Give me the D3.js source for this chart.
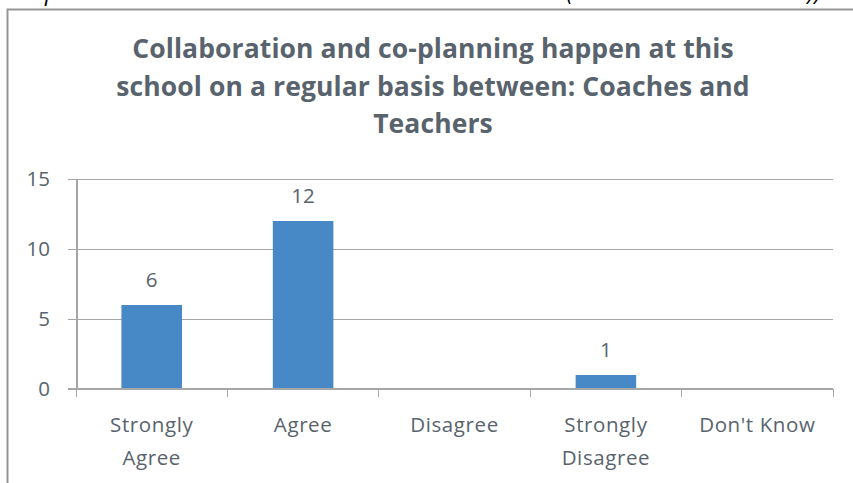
<!DOCTYPE html>
<meta charset="utf-8">
<style>
body {
  margin: 0;
  background-color: #fff;
}
text {
  font-family: "Open Sans", sans-serif;
  fill: #59636d;
}
.axis path,
.axis line {
  fill: none;
  stroke: #a6a6a6;
  stroke-width: 2px;
  shape-rendering: crispEdges;
}
.grid line {
  stroke: #a6a6a6;
  stroke-width: 1px;
  shape-rendering: crispEdges;
}
.bar {
  fill: #4788c7;
}
</style>
<body>
<svg width="853" height="483"></svg>

<script src="https://d3js.org/d3.v7.min.js"></script>
<script>

var categories = [["Strongly", "Agree"], ["Agree"], ["Disagree"], ["Strongly", "Disagree"], ["Don't Know"]];
var counts = [6, 12, 0, 1, 0];
var yTicks = [0, 5, 10, 15];
var titleLines = ["Collaboration and co-planning happen at this",
                  "school on a regular basis between: Coaches and",
                  "Teachers"];
var caption = "Graph 4: Teacher and Coach Collaboration at School (Teachers and Coaches))";

var data = categories.map(function(c, i) { return {label: c, key: c.join(" "), value: counts[i]}; });

var margin = {top: 179, right: 20, bottom: 94, left: 76},
    width = 833 - margin.left,
    height = 389 - margin.top;

var svg = d3.select("svg");

// caption of the page, cut off above the chart frame
svg.append("text")
  .attr("x", 6)
  .attr("y", 0)
  .attr("textLength", 815)
  .attr("lengthAdjust", "spacing")
  .style("font-style", "italic")
  .style("font-size", "23px")
  .style("fill", "#000")
  .text(caption);

// chart frame
svg.append("rect")
  .attr("x", 7.5)
  .attr("y", 9.5)
  .attr("width", 860)
  .attr("height", 500)
  .attr("fill", "none")
  .attr("stroke", "#959595")
  .attr("stroke-width", 2);

svg.append("g").selectAll("text")
  .data(titleLines)
  .enter().append("text")
  .attr("x", 433)
  .attr("y", function(d, i) { return 58 + i * 37.5; })
  .attr("text-anchor", "middle")
  .style("font-size", "26.5px")
  .style("font-weight", "bold")
  .style("letter-spacing", "0.1px")
  .text(function(d) { return d; });

var x = d3.scaleBand()
  .domain(data.map(function(d) { return d.key; }))
  .range([0, width])
  .paddingInner(0.6)
  .paddingOuter(0.3);

var y = d3.scaleLinear().domain([0, 15]).range([height, 0]);

var g = svg.append("g")
  .attr("transform", "translate(" + margin.left + "," + margin.top + ")");

g.append("g")
  .attr("class", "grid")
  .selectAll("line")
  .data(yTicks.slice(1))
  .enter().append("line")
  .attr("x1", 0)
  .attr("x2", width)
  .attr("y1", function(d) { return y(d); })
  .attr("y2", function(d) { return y(d); });

var yAxis = g.append("g")
  .attr("class", "axis")
  .call(d3.axisLeft(y).tickValues(yTicks).tickSize(8).tickSizeOuter(0).tickPadding(18));
yAxis.selectAll("text").style("font-size", "20.5px").style("font-family", "Open Sans, sans-serif").style("fill", "#59636d");
yAxis.selectAll(".tick line").style("stroke-width", "1px").attr("stroke", "#a6a6a6");

g.selectAll(".bar")
  .data(data)
  .enter().append("rect")
  .attr("class", "bar")
  .attr("x", function(d) { return x(d.key); })
  .attr("width", x.bandwidth())
  .attr("y", function(d) { return y(d.value); })
  .attr("height", function(d) { return height - y(d.value); });

g.selectAll(".value")
  .data(data.filter(function(d) { return d.value > 0; }))
  .enter().append("text")
  .attr("class", "value")
  .attr("x", function(d) { return x(d.key) + x.bandwidth() / 2; })
  .attr("y", function(d) { return y(d.value) - 18; })
  .attr("text-anchor", "middle")
  .style("font-size", "20.5px")
  .text(function(d) { return d.value; });

// category axis, ticks between the bands
var xAxis = g.append("g")
  .attr("class", "axis")
  .attr("transform", "translate(0," + height + ")");

xAxis.append("line")
  .attr("x1", -8).attr("x2", width);
xAxis.selectAll(".sep")
  .data(d3.range(categories.length + 1))
  .enter().append("line")
  .attr("class", "sep")
  .attr("x1", function(i) { return i * width / categories.length; })
  .attr("x2", function(i) { return i * width / categories.length; })
  .attr("y1", 0)
  .attr("y2", 8)
  .style("stroke-width", "1px");

var labels = xAxis.selectAll(".cat")
  .data(data)
  .enter().append("text")
  .attr("class", "cat")
  .attr("text-anchor", "middle")
  .attr("transform", function(d) { return "translate(" + (x(d.key) + x.bandwidth() / 2) + ",0)"; })
  .style("font-size", "20.5px")
  .style("letter-spacing", "0.6px");

labels.selectAll("tspan")
  .data(function(d) { return d.label; })
  .enter().append("tspan")
  .attr("x", 0)
  .attr("y", function(d, i) { return 43 + i * 33; })
  .text(function(d) { return d; });

</script>
</body>
